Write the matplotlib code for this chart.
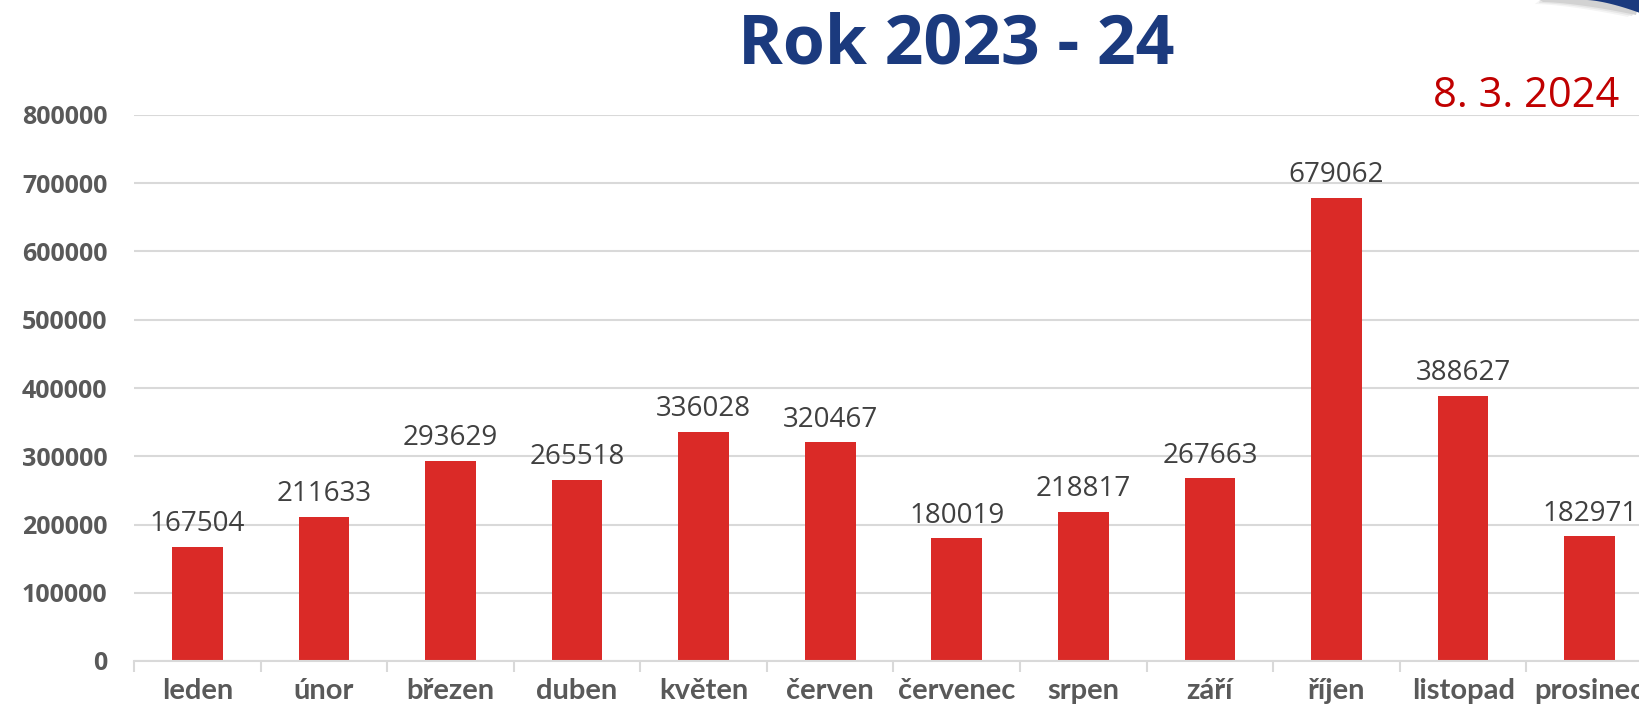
import matplotlib
matplotlib.use("Agg")
import matplotlib.pyplot as plt
from matplotlib.patches import Polygon
from matplotlib.ticker import FixedLocator
import numpy as np

months = ["leden", "únor", "březen", "duben", "květen", "červen",
          "červenec", "srpen", "září", "říjen", "listopad", "prosinec"]
values = [167504, 211633, 293629, 265518, 336028, 320467,
          180019, 218817, 267663, 679062, 388627, 182971]
yticks = [0, 100000, 200000, 300000, 400000, 500000, 600000, 700000, 800000]
title = "Rok 2023 - 24"
date_text = "8. 3. 2024"

W, H = 1640, 709
fig = plt.figure(figsize=(W / 100, H / 100), dpi=100)
fig.patch.set_facecolor("white")

ax = fig.add_axes([134 / W, 1 - 661 / H, (1653 - 134) / W, (661 - 115) / H])
x = np.arange(len(months))
ax.bar(x, values, width=0.4, color="#DA2A27", zorder=3)
ax.set_xlim(-0.5, len(months) - 0.5)
ax.set_ylim(0, 800000)
ax.set_yticks(yticks)
ax.set_yticklabels([str(v) for v in yticks])
ax.grid(axis="y", color="#D9D9D9", linewidth=1.5, zorder=0)
ax.set_axisbelow(True)
for s in ["top", "right", "left"]:
    ax.spines[s].set_visible(False)
ax.spines["bottom"].set_color("#D9D9D9")
ax.spines["bottom"].set_linewidth(1.5)
ax.spines["bottom"].set_zorder(4)

ax.tick_params(axis="y", length=0, pad=19, labelsize=18, labelcolor="#595959")
for lab in ax.get_yticklabels():
    lab.set_fontweight("bold")
    lab.set_family("Open Sans")

ax.set_xticks(x)
ax.set_xticklabels(months)
ax.tick_params(axis="x", length=0, pad=12, labelsize=21, labelcolor="#595959")
for lab in ax.get_xticklabels():
    lab.set_fontweight("bold")
    lab.set_family("Lato")
ax.xaxis.set_minor_locator(FixedLocator(np.arange(-0.5, len(months), 1.0)))
ax.tick_params(axis="x", which="minor", length=8, width=1.5, color="#D9D9D9")

for xi, v in zip(x, values):
    ax.annotate(str(v), (xi, v), xytext=(0, 6), textcoords="offset points",
                ha="center", va="bottom", fontsize=20, color="#404040",
                family="Open Sans", annotation_clip=False)

fig.text(956 / W, 1 - 46 / H, title, ha="center", va="center",
         fontsize=49, fontweight="bold", color="#1B3A7E", family="Open Sans")
fig.text(1619 / W, 1 - 107 / H, date_text, ha="right", va="baseline",
         fontsize=30, color="#C00000", family="Open Sans")

# decorative swoosh in top right corner
t = np.linspace(0, 1, 30)
sx = 1587 + (1640 - 1587) * t
sy = 13 * t ** 1.5
for k, col in enumerate(["#F4F4F4", "#E6E6E6", "#D2D2D2"]):
    off = 3 - k
    shadow = Polygon([(px / W, 1 - (py + off + 1) / H) for px, py in zip(sx - 40 * (1 - t) - 4 * off, sy)] +
                     [(1640 / W, 1.0), (1540 / W, 1.0)],
                     closed=True, transform=fig.transFigure, facecolor=col,
                     edgecolor="none", zorder=1 + k)
    fig.patches.append(shadow)
swoosh = Polygon([(px / W, 1 - py / H) for px, py in zip(sx, sy)] +
                 [(1640 / W, 1.0)],
                 closed=True, transform=fig.transFigure, facecolor="#1B3A7E",
                 edgecolor="none", zorder=5)
fig.patches.append(swoosh)

fig.savefig("out.png", dpi=100, facecolor="white")
